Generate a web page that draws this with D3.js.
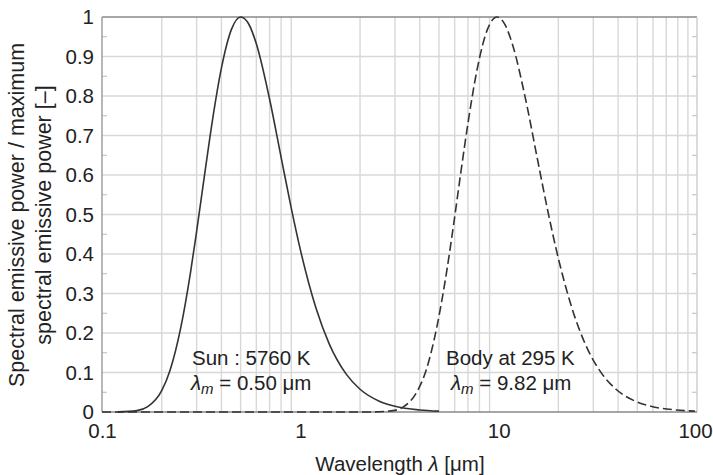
<!DOCTYPE html>
<html><head><meta charset="utf-8">
<script src="https://cdn.jsdelivr.net/npm/d3@7"></script>
<style>body{margin:0;background:#fff}text{font-family:"Liberation Sans",Arial,sans-serif;fill:#222}</style>
</head><body><svg id="c" width="713" height="475"></svg>
<script>
const sunWavelength = [0.12,0.15,0.17,0.2,0.22,0.25,0.28,0.3,0.33,0.36,0.4,0.45,0.5,0.55,0.6,0.7,0.8,0.9,1.0,1.2,1.4,1.7,2,2.5,3,4,5];
const sunPower = [0.0002,0.0035,0.0135,0.054,0.1045,0.2154,0.3563,0.4571,0.6052,0.7367,0.8707,0.9693,1.0,0.9816,0.9323,0.7918,0.6448,0.5161,0.411,0.2626,0.172,0.0965,0.0576,0.0274,0.0145,0.0052,0.0023];
const bodyWavelength = [0.1,1,2.34,2.93,3.32,3.9,4.3,4.88,5.47,5.86,6.44,7.03,7.81,8.79,9.82,10.74,11.71,13.67,15.62,17.57,19.52,23.43,27.33,33.19,39.05,48.81,58.57,78.09,97.6];
const bodyPower = [0,0,0.0002,0.0035,0.0135,0.054,0.1045,0.2154,0.3563,0.4571,0.6052,0.7367,0.8707,0.9693,1.0,0.9816,0.9323,0.7918,0.6448,0.5161,0.411,0.2626,0.172,0.0965,0.0576,0.0274,0.0145,0.0052,0.0023];
const xTicks = [0.1,1,10,100];
const xTickLabels = ["0.1","1","10","100"];
const yTicks = [0,0.1,0.2,0.3,0.4,0.5,0.6,0.7,0.8,0.9,1];
const yTickLabels = ["0","0.1","0.2","0.3","0.4","0.5","0.6","0.7","0.8","0.9","1"];

const FS = 20.5;
const svg = d3.select("#c");
const L=102,R=697,T=17,B=412;
const x = d3.scaleLog().domain([0.1,100]).range([L,R]);
const y = d3.scaleLinear().domain([0,1]).range([B,T]);

// grid
const minor = [];
[0.1,1,10].forEach(d=>{for(let k=2;k<=9;k++)minor.push(d*k);});
const g = svg.append("g");
g.selectAll(".vg").data(minor).join("line")
 .attr("x1",d=>x(d)).attr("x2",d=>x(d)).attr("y1",T).attr("y2",B)
 .attr("stroke","#d8d8d8").attr("stroke-width",1.4);
g.selectAll(".hg").data(yTicks.slice(1,-1)).join("line")
 .attr("x1",L).attr("x2",R).attr("y1",d=>y(d)).attr("y2",d=>y(d))
 .attr("stroke","#d8d8d8").attr("stroke-width",1.4);

// minor y ticks on left and right
const yMinor = d3.range(0.05,1,0.1);
g.selectAll(".lt").data(yMinor).join("line")
 .attr("x1",L).attr("x2",L+5).attr("y1",d=>y(d)).attr("y2",d=>y(d)).attr("stroke","#bbb");
g.selectAll(".rt").data(yMinor).join("line")
 .attr("x1",R-5).attr("x2",R).attr("y1",d=>y(d)).attr("y2",d=>y(d)).attr("stroke","#bbb");

// frame
svg.append("line").attr("x1",L).attr("x2",R).attr("y1",T).attr("y2",T).attr("stroke","#888").attr("stroke-width",1.4);
svg.append("line").attr("x1",R).attr("x2",R).attr("y1",T).attr("y2",B).attr("stroke","#ccc").attr("stroke-width",1.4);
svg.append("line").attr("x1",L).attr("x2",L).attr("y1",T).attr("y2",B).attr("stroke","#999").attr("stroke-width",1.4);
svg.append("line").attr("x1",L).attr("x2",R).attr("y1",B).attr("y2",B).attr("stroke","#888").attr("stroke-width",1.6);

// curves
const line = d3.line().x(d=>x(d[0])).y(d=>y(d[1])).curve(d3.curveMonotoneX);
svg.append("path").datum(sunWavelength.map((w,i)=>[w,sunPower[i]]))
 .attr("d",line).attr("fill","none").attr("stroke","#333").attr("stroke-width",1.6);
svg.append("path").datum(bodyWavelength.map((w,i)=>[w,bodyPower[i]]))
 .attr("d",line).attr("fill","none").attr("stroke","#333").attr("stroke-width",1.6)
 .attr("stroke-dasharray","9,4");

// axis labels via d3 axes
const xAxis = d3.axisBottom(x).tickValues(xTicks).tickFormat((d,i)=>xTickLabels[i]).tickSize(0).tickPadding(11);
const xa = svg.append("g").attr("transform",`translate(0,${B})`).call(xAxis);
xa.select(".domain").remove();
xa.selectAll("text").attr("font-size",FS).attr("fill","#222").attr("font-family","Liberation Sans, Arial, sans-serif");
xa.selectAll(".tick").filter(d=>d===100).select("text").attr("x",-2);
const yAxis = d3.axisLeft(y).tickValues(yTicks).tickFormat((d,i)=>yTickLabels[i]).tickSize(0).tickPadding(8);
const ya = svg.append("g").attr("transform",`translate(${L},0)`).call(yAxis);
ya.select(".domain").remove();
ya.selectAll("text").attr("font-size",FS).attr("fill","#222").attr("font-family","Liberation Sans, Arial, sans-serif");

// titles
const xt = svg.append("text").attr("x",400).attr("y",471).attr("text-anchor","middle").attr("font-size",FS);
xt.append("tspan").text("Wavelength ");
xt.append("tspan").attr("font-style","italic").text("λ");
xt.append("tspan").text(" [μm]");
const yt = svg.append("text").attr("transform","translate(24,215) rotate(-90)").attr("text-anchor","middle").attr("font-size",21.5);
yt.append("tspan").attr("x",0).attr("dy",0).text("Spectral emissive power / maximum");
yt.append("tspan").attr("x",0).attr("dy",27).text("spectral emissive power [–]");

// annotations
function ann(xp, l1, xp2, val){
  svg.append("text").attr("x",xp).attr("y",365).attr("font-size",FS).text(l1);
  const t = svg.append("text").attr("x",xp2).attr("y",390).attr("font-size",FS);
  t.append("tspan").attr("font-style","italic").text("λ");
  t.append("tspan").attr("font-style","italic").attr("font-size",15).attr("dy",4).text("m");
  t.append("tspan").attr("dy",-4).text(" = "+val+" μm");
}
ann(192,"Sun : 5760 K",191,"0.50");
ann(446,"Body at 295 K",451,"9.82");
</script></body></html>
